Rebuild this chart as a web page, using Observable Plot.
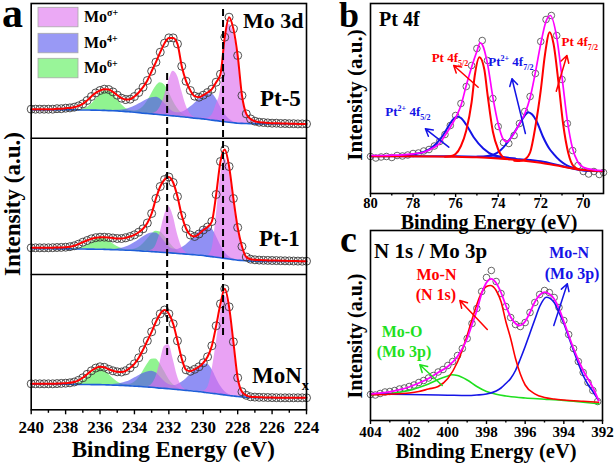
<!DOCTYPE html>
<html><head><meta charset="utf-8">
<script src="https://cdn.jsdelivr.net/npm/d3@7"></script>
<script src="https://cdn.jsdelivr.net/npm/@observablehq/plot@0.6"></script>
<style>
body{margin:0;background:#fff;}
#fig{position:relative;width:614px;height:465px;overflow:hidden;background:#fff;}
</style></head><body><div id="fig"></div>
<script>
// ===================== DATA: panel a (Mo 3d) =====================
const energyA = [240,239.75,239.5,239.25,239,238.75,238.5,238.25,238,237.75,237.5,237.25,237,236.75,236.5,236.25,236,235.75,235.5,235.25,235,234.75,234.5,234.25,234,233.75,233.5,233.25,233,232.75,232.5,232.25,232,231.75,231.5,231.25,231,230.75,230.5,230.25,230,229.75,229.5,229.25,229,228.75,228.5,228.25,228,227.75,227.5,227.25,227,226.75,226.5,226.25,226,225.75,225.5,225.25,225,224.75,224.5,224.25,224];

const pt5Counts = [29,29,29,29, 29,29,29.5,29.5, 30,30.3,31,32.3, 34.3,37.7,41.7,45.3, 47.7,49,48.7,46.3, 43,40,38.7,39, 41.7,45.7,51,57.7, 67,76,86,95, 100.3,100.3,94.3,72, 57,47.7,42,41, 43,45.7,49,56, 64,101,121,109.3, 82.7,42.7,24.3,19.3, 17,16,15.7,15.3, 15,15,14.7,14.7, 14.5,14.5,14.3,14.3, 14.3];
const pt5Bg = [28.3,28.3,28.3,28.3, 28.3,28.3,28.3,28.3, 28.3,28.3,28.3,28.3, 28.2,28.2,28.1,28.1, 28,27.8,27.6,27.5, 27.3,27,26.6,26.3, 26,25.6,25.1,24.7, 24.3,23.9,23.5,23.1, 22.7,22.3,21.9,21.4, 21,20.6,20.1,19.7, 19.3,18.7,18.1,17.6, 17,16.5,16,15.5, 15,14.8,14.7,14.5, 14.3,14.3,14.3,14.3, 14.3,14.3,14.3,14.3, 14.3,14.3,14.3,14.3, 14.3];
const pt5Mo6 = [0,0,0,0, 0,0,0,0, 0,0,0.1,0.3, 1,2.6,5.8,10.6, 15.6,19.3,19.7,16.6, 11.6,6.6,3.2,1.4, 1.2,2.5,6.1,12.2, 20.2,27.8,31.9,30.1, 23.4,15,8,3.5, 1.3,0.4,0.1,0, 0,0,0,0, 0,0,0,0, 0,0,0,0, 0,0,0,0, 0,0,0,0, 0,0,0,0, 0];
const pt5Mo4 = [0,0,0,0, 0,0,0,0, 0,0,0,0, 0,0,0,0, 0,0.1,0.1,0.3, 0.6,1.2,2.2,3.8, 5.9,8.5,11.4,14.1, 16.1,17,15.8,11.8, 7.2,4.2,3.5,4.5, 7,10.5,14.7,19.1, 22.9,25.4,26,21.8, 14.5,7.6,3.1,1, 0.3,0.1,0,0, 0,0,0,0, 0,0,0,0, 0,0,0,0, 0];
const pt5MoD = [0,0,0,0, 0,0,0,0, 0,0,0,0, 0,0,0,0, 0,0,0,0, 0,0,0,0, 0,0,0,0, 0.4,2.1,7.7,19.4, 35,44.6,40.4,25.7, 11.6,3.7,0.8,0.2, 0.8,1.6,4.9,16, 31,75,98,90, 66,27,9,4.5, 2.5,1.5,0.8,0.4, 0,0,0,0, 0,0,0,0, 0];

const pt1Counts = [26.7,26.7,26.7,26.7, 26.7,26.8,27,27.1, 27.3,27.8,28.7,30.3, 32.3,34,35.7,36.8, 37.3,37.3,37,36.5, 36,36,36.7,38, 39.7,42.3,45.7,51.5, 61,76,88,95, 97.5,92,78,59, 46,39.5,38,40.5, 44.5,47.5,53,80, 113,125,108,76, 47,28,17.5,15.3, 14.7,14.4,14.2,14.1, 14,13.9,13.8,13.7, 13.6,13.5,13.4,13.3, 13.3];
const pt1Bg = [25.7,25.7,25.7,25.7, 25.7,25.7,25.6,25.6, 25.6,25.6,25.5,25.5, 25.5,25.4,25.4,25.3, 25.3,25.1,25,24.8, 24.7,24.5,24.3,24.2, 24,23.7,23.4,23.2, 22.9,22.6,22.3,22, 21.7,21.4,21,20.7, 20.4,20,19.7,19.3, 19,18.4,17.9,17.3, 16.7,16.1,15.5,14.9, 14.3,14,13.7,13.4, 13.2,13.1,13.1,13, 13,13,13,13, 13,13,13,13, 13];
const pt1Mo6 = [0,0,0,0, 0,0,0,0, 0,0.1,0.2,0.7, 1.8,3.8,6.6,9.5, 11.3,11.1,9,6, 3.3,1.5,0.7,0.6, 1.3,3.3,7,12.1, 17.4,20.7,20.3,16.5, 11,6.1,2.8,1.1, 0.3,0.1,0,0, 0,0,0,0, 0,0,0,0, 0,0,0,0, 0,0,0,0, 0,0,0,0, 0,0,0,0, 0];
const pt1Mo4 = [0,0,0,0, 0,0,0,0, 0,0,0,0, 0,0,0,0, 0,0.1,0.2,0.4, 0.9,1.7,3.1,5.1, 7.7,10.8,14,16.7, 18.5,19,16.2,11, 6.4,4.1,4.1,6, 9.2,13.5,18.4,23.1, 26.9,28.8,27.8,21.3, 12.9,6.1,2.3,0.7, 0.1,0,0,0, 0,0,0,0, 0,0,0,0, 0,0,0,0, 0];
const pt1MoD = [0,0,0,0, 0,0,0,0, 0,0,0,0, 0,0,0,0, 0,0,0,0, 0,0,0,0, 0,0,0,0.1, 1.5,6.7,19.6,37.1, 46,37.1,19.6,6.7, 1.5,0.1,0,0, 0,0.5,7,40, 81,100,88,59, 32,13.5,3.5,1.5, 0.8,0.3,0,0, 0,0,0,0, 0,0,0,0, 0];

const mnxCounts = [26,26,26,26, 26,26,26.2,26.4, 26.6,27,27.8,29.5, 32,35.5,39,41.7, 43,42.5,40.5,39, 38,37.8,39,42, 46,52,60,69, 78,88,96,99.8, 96,86,69,51, 40,38.5,40.5,43, 47,53,64,84, 106,121,103,68, 32,18,14.5,13, 12.7,12.5,12.4,12.3, 12.2,12.1,12,12, 12,12,12,12, 12];
const mnxBg = [25.5,25.5,25.5,25.5, 25.5,25.5,25.5,25.5, 25.5,25.5,25.4,25.4, 25.3,25.3,25.2,25.2, 25.2,25,24.9,24.7, 24.6,24.4,24.2,23.9, 23.7,23.4,23.1,22.8, 22.5,22.1,21.7,21.4, 21,20.6,20.2,19.8, 19.4,19,18.5,18.1, 17.7,17.1,16.6,16, 15.4,14.9,14.3,13.8, 13.3,12.9,12.6,12.4, 12.2,12.1,12,12, 12,12,12,12, 12,12,12,12, 12];
const mnxMo6 = [0,0,0,0, 0,0,0,0, 0,0.1,0.5,1.5, 3.5,6.8,10.9,14.5, 16,14.5,10.9,6.8, 3.5,1.6,1,1.6, 3.9,8.4,15.3,22.7, 28,28.6,24.1,16.8, 9.6,4.6,1.8,0.6, 0.1,0,0,0, 0,0,0,0, 0,0,0,0, 0,0,0,0, 0,0,0,0, 0,0,0,0, 0,0,0,0, 0];
const mnxMo4 = [0,0,0,0, 0,0,0,0, 0,0,0,0, 0,0,0,0, 0,0.1,0.3,0.6, 1.1,2.1,3.5,5.5, 8,10.7,13.2,15.1, 16,14.9,11.1,6.9, 4.2,3.6,4.9,7.7, 11.5,16.2,20.9,25.1, 27.8,28.5,23.9,15.9, 8.3,3.4,1.1,0.3, 0.1,0,0,0, 0,0,0,0, 0,0,0,0, 0,0,0,0, 0];
const mnxMoD = [0,0,0,0, 0,0,0,0, 0,0,0,0, 0,0,0,0, 0,0,0,0, 0,0,0,0, 0,0,0,0.5, 2.9,10.7,26.4,42.2, 44,30,13.3,3.8, 0.7,0.1,0,0, 1,5,22,50, 80,99,86,53, 18,5,1.8,0.6, 0.3,0,0,0, 0,0,0,0, 0,0,0,0, 0];

const refLinesA = [232.1, 228.85];
const tickLabelsA = [240,238,236,234,232,230,228,226,224];
const minorTicksA = [239,237,235,233,231,229,227,225];
const legendSupA = ["σ+","4+","6+"];

// ===================== DATA: panel b (Pt 4f) =====================
const energyB = [80,79.75,79.5,79.25,79,78.75,78.5,78.25,78,77.75,77.5,77.25,77,76.75,76.5,76.25,76,75.75,75.5,75.25,75,74.75,74.5,74.25,74,73.75,73.5,73.25,73,72.75,72.5,72.25,72,71.75,71.5,71.25,71,70.75,70.5,70.25,70,69.75,69.5,69.25,69.05];
const countsB = [37,35.5,36.5,37, 36,38,37.5,38.5, 40,40.5,42.5,44, 47.5,52,59,68, 78,90,107,128, 145,153,133,95, 67,51,50,58, 70,82,97,120, 152,174,178,158, 114,70,43,28, 22,19.5,22,19, 21];
const envEnergyB = [80,79.5,79,78.5,78,77.5,77,76.75,76.5,76.25,76,75.75,75.5,75.25,75,74.85,74.75,74.5,74.25,74,73.75,73.6,73.5,73.25,73,72.75,72.5,72.25,72,71.75,71.55,71.25,71,70.75,70.5,70.25,70,69.5,69.05];
const envB = [38,38,38.3,38.7,39.7,41.3,46.3,50,58,66.3,75.7,88,108,126.3,142.3,150.7,149,129.7,96.3,69.7,53.7,51.7,53,60.3,69.7,79.7,95.7,121.3,149.7,172.3,178,156.3,116.3,73,44.7,31.3,26.3,23.7,23];
const bgEnergyB = [80,77,76,75,74,73,72,71,70,69.05];
const bgRedB = [37.3,37,36.8,36.2,35,33.3,30.7,27,23.5,22.3];
const bgBlueB = [37.3,37.3,37.2,36.8,36,34.3,32.3,27.5,23,22.3];
const pt0a_E = [76.5,76.25,76,75.75,75.5,75.25,75.1,74.88,74.65,74.5,74.25,74,73.75,73.5];
const pt0a_I = [36.8,37.3,39.5,47.5,63,91,118,136.3,124,99,62,44,36,34.2];
const pt0b_E = [73.25,73,72.75,72.5,72.25,72,71.8,71.58,71.4,71.15,70.95,70.7,70.45,70.2];
const pt0b_I = [32.8,32.4,34,41,67,103,139,161.3,150,108,70,40,27,24];
const pt2a_E = [78.5,78,77.5,77.2,76.9,76.6,76.3,76.1,75.93,75.75,75.5,75.15,74.7,74.2,73.7,73.2];
const pt2a_I = [37.4,39,41.5,44.7,50,58,68.5,74.5,77,75.5,68.7,56.3,45,38.2,36.3,35];
const pt2b_E = [75,74.5,74.2,73.9,73.6,73.3,73,72.8,72.6,72.4,72.2,71.9,71.6,71.4,71.1,70.8,70.3,69.8];
const pt2b_I = [36.8,37.5,39,43,50,59,69.5,76.3,81.3,79,72.5,57,45,39.7,33,28.5,24.5,22.8];
const tickLabelsB = [80,78,76,74,72,70];
const minorTicksB = [79,77,75,73,71];

// ===================== DATA: panel c (N 1s / Mo 3p) =====================
const energyC = [404,403.75,403.5,403.25,403,402.75,402.5,402.25,402,401.75,401.5,401.25,401,400.75,400.5,400.25,400,399.75,399.5,399.25,399,398.75,398.5,398.25,398,397.75,397.5,397.25,397,396.75,396.5,396.25,396,395.75,395.5,395.25,395,394.75,394.5,394.25,394,393.75,393.5,393.25,393,392.75,392.5,392.25];
const countsC = [26,25.5,27,28.5, 29,30,31.5,32.5, 34,35.5,38,40, 42.5,45,48.5,51, 55,59,65,72, 82,97,112,129, 143,150,139,127, 114,103,96,94, 98,108,118,126, 130,128,123,113, 100,86,72,59, 48,38,30,19];
const envEnergyC = [404,403,402.5,402,401.5,401,400.5,400,399.5,399,398.75,398.5,398.25,398,397.75,397.5,397.25,397,396.75,396.5,396.3,396,395.75,395.5,395.25,395,394.75,394.5,394.25,394,393.5,393,392.5,392.2];
const envC = [26.7,28.7,30.8,33.5,37.5,42,48,54,64,82,96,110,127,138,141.7,137.5,128,115,103.5,97,95,99,108,118.5,125.5,128.3,126.5,121.5,112,99,72,50,33,20];
const n1s_E = [404,403,402,401.5,401,400.5,400,399.5,399,398.75,398.5,398.25,398,397.8,397.5,397.25,397,396.75,396.5,396.25,396,395.5,395,394.5,394,393,392.2];
const n1s_I = [25.7,26.3,27.5,29,31.5,34,42,58.5,85,101,116,128,134,135,130,119,99,82,62,46.5,35.5,26.7,23,21.5,20.5,19.2,18.3];
const mo3pN_E = [404,402,400,399,398.5,398,397.5,397.25,397,396.75,396.5,396.25,396,395.75,395.5,395.25,394.9,394.5,394.25,394,393.75,393.5,393.25,393,392.75,392.5,392.2];
const mo3pN_I = [26.7,26,25.3,25,25.5,26.5,29.5,32.5,37,42,50,61.5,74,87.5,101,114,123.3,118,108,97,83.5,70,57,45,36,29,20];
const mo3pO_E = [404,403,402.5,402,401.5,401,400.5,400,399.8,399.5,399,398.5,398,397.5,397,396,395,394,393,392.2];
const mo3pO_I = [25.7,27,28.2,30,33,36.5,41,44.5,45.7,45,40.5,34,29,26.2,24.5,22.5,21.3,20,18.2,16.7];
const tickLabelsC = [404,402,400,398,396,394,392];
const minorTicksC = [403,401,399,397,395,393];

// ===================== STYLE / LAYOUT =====================
const FONT = "'Liberation Serif','Times New Roman',Times,serif";
const RED = "#ff0000", BLUE = "#1414e6", MAG = "#ff00ff", GRN = "#1fe01f";
const FILL_D = "#dd70ee", FILL_4 = "#5555ee", FILL_6 = "#55ee55", FILL_OP = 0.65;
const fig = document.getElementById("fig");
const zip = (xs, ys) => xs.map((x, i) => ({x, y: ys[i]}));
const curve = "monotone-x";
const plotStyle = size => `font-family:${FONT};font-size:${size}px;font-weight:bold;background:transparent;overflow:visible;`;

function place(svg, left, top) {
  svg.style.position = "absolute"; svg.style.left = left + "px"; svg.style.top = top + "px";
  fig.appendChild(svg); return svg;
}
function axes(major, minor, size, pad) {
  return [
    Plot.axisX({ticks: major, tickSize: size, tickPadding: pad, tickFormat: d => String(d), label: null, strokeWidth: 1.4}),
    Plot.axisX({ticks: minor, tickSize: size - 1.5, tickFormat: () => "", label: null, strokeWidth: 1.4})
  ];
}

// ---------- panel a ----------
const stackOffsets = [271.6, 135.3, 0];
const spectraA = [
  {counts: pt5Counts, bg: pt5Bg, d: pt5MoD, f: pt5Mo4, s: pt5Mo6},
  {counts: pt1Counts, bg: pt1Bg, d: pt1MoD, f: pt1Mo4, s: pt1Mo6},
  {counts: mnxCounts, bg: mnxBg, d: mnxMoD, f: mnxMo4, s: mnxMo6}
];
const dashSpans = [[54.3, 339.3], [74.3, 402.3]];
const marksA = [];
spectraA.forEach((sp, k) => {
  const off = stackOffsets[k];
  const rows = energyA.map((E, i) => ({
    E, c: sp.counts[i] + off, bg: sp.bg[i] + off,
    d: sp.bg[i] + sp.d[i] + off, f: sp.bg[i] + sp.f[i] + off, s: sp.bg[i] + sp.s[i] + off
  }));
  marksA.push(
    Plot.areaY(rows, {x: "E", y1: "bg", y2: "s", fill: FILL_6, fillOpacity: FILL_OP, curve}),
    Plot.areaY(rows, {x: "E", y1: "bg", y2: "f", fill: FILL_4, fillOpacity: FILL_OP, curve}),
    Plot.areaY(rows, {x: "E", y1: "bg", y2: "d", fill: FILL_D, fillOpacity: FILL_OP, curve}),
    Plot.line(rows, {x: "E", y: "bg", stroke: "#1e5ed8", strokeWidth: 1.6, curve}),
    Plot.dot(rows, {x: "E", y: "c", r: 4, stroke: "#3a3a3a", strokeWidth: 0.9, fill: "none"}),
    Plot.line(rows, {x: "E", y: "c", stroke: RED, strokeWidth: 2, curve})
  );
});
marksA.push(
  Plot.ruleX(refLinesA.map((E, i) => ({E, lo: dashSpans[i][0], hi: dashSpans[i][1]})),
    {x: "E", y1: "lo", y2: "hi", stroke: "#000", strokeWidth: 2, strokeDasharray: "7,4"}),
  Plot.ruleY([stackOffsets[1], stackOffsets[0]], {stroke: "#000", strokeWidth: 1.5}),
  Plot.frame({stroke: "#000", strokeWidth: 1.6}),
  ...axes(tickLabelsA, minorTicksA, 5, 6.5)
);
const plotA = place(Plot.plot({
  width: 310, height: 465, marginLeft: 30.7, marginRight: 4, marginTop: 3, marginBottom: 55.7,
  x: {domain: [240, 224], label: null}, y: {domain: [0, 406.3], axis: null},
  style: plotStyle(17),
  marks: marksA
}), 0, 0);

// ---------- panel b ----------
const arrowsB = [
  {x1: 74.94, y1: 106.3, x2: 76.09, y2: 128, c: RED},
  {x1: 72.72, y1: 60, x2: 73.35, y2: 114.7, c: BLUE},
  {x1: 71.27, y1: 102.3, x2: 70.77, y2: 138, c: RED},
  {x1: 76.32, y1: 46.3, x2: 77.42, y2: 64.7, c: BLUE}
];
const plotB = place(Plot.plot({
  width: 274, height: 230, marginLeft: 30, marginRight: 11, marginTop: 3, marginBottom: 37,
  x: {domain: [80, 69.05], label: null}, y: {domain: [0, 190], axis: null},
  style: plotStyle(14.5),
  marks: [
    Plot.dot(zip(energyB, countsB), {x: "x", y: "y", r: 3.3, stroke: "#555", strokeWidth: 0.9, fill: "none"}),
    Plot.line(zip(bgEnergyB, bgBlueB), {x: "x", y: "y", stroke: BLUE, strokeWidth: 2, curve}),
    Plot.line(zip(pt2a_E, pt2a_I), {x: "x", y: "y", stroke: BLUE, strokeWidth: 2, curve}),
    Plot.line(zip(pt2b_E, pt2b_I), {x: "x", y: "y", stroke: BLUE, strokeWidth: 2, curve}),
    Plot.line(zip(bgEnergyB, bgRedB), {x: "x", y: "y", stroke: RED, strokeWidth: 2, curve}),
    Plot.line(zip(pt0a_E, pt0a_I), {x: "x", y: "y", stroke: RED, strokeWidth: 2, curve}),
    Plot.line(zip(pt0b_E, pt0b_I), {x: "x", y: "y", stroke: RED, strokeWidth: 2, curve}),
    Plot.line(zip(envEnergyB, envB), {x: "x", y: "y", stroke: MAG, strokeWidth: 1.7, curve}),
    ...arrowsB.map(a => Plot.arrow([a], {x1: "x1", y1: "y1", x2: "x2", y2: "y2", stroke: a.c, strokeWidth: 1.5, headLength: 8})),
    Plot.frame({stroke: "#000", strokeWidth: 1.6}),
    ...axes(tickLabelsB, minorTicksB, 4, 0)
  ]
}), 340, 0);

// ---------- panel c ----------
const arrowsC = [
  {x1: 397.96, y1: 91, x2: 399.38, y2: 120, c: RED},
  {x1: 394.52, y1: 95, x2: 393.82, y2: 136.7, c: BLUE},
  {x1: 400.29, y1: 35, x2: 401.45, y2: 55.7, c: GRN}
];
const plotC = place(Plot.plot({
  width: 274, height: 237, marginLeft: 30, marginRight: 12, marginTop: 2, marginBottom: 45,
  x: {domain: [404, 392], label: null}, y: {domain: [0, 190], axis: null},
  style: plotStyle(15),
  marks: [
    Plot.dot(zip(energyC, countsC), {x: "x", y: "y", r: 3.3, stroke: "#555", strokeWidth: 0.9, fill: "none"}),
    Plot.line(zip(mo3pO_E, mo3pO_I), {x: "x", y: "y", stroke: GRN, strokeWidth: 1.6, curve}),
    Plot.line(zip(mo3pN_E, mo3pN_I), {x: "x", y: "y", stroke: BLUE, strokeWidth: 1.6, curve}),
    Plot.line(zip(n1s_E, n1s_I), {x: "x", y: "y", stroke: RED, strokeWidth: 1.6, curve}),
    Plot.line(zip(envEnergyC, envC), {x: "x", y: "y", stroke: MAG, strokeWidth: 1.8, curve}),
    ...arrowsC.map(a => Plot.arrow([a], {x1: "x1", y1: "y1", x2: "x2", y2: "y2", stroke: a.c, strokeWidth: 1.5, headLength: 8})),
    Plot.frame({stroke: "#000", strokeWidth: 1.6}),
    ...axes(tickLabelsC, minorTicksC, 4, 2)
  ]
}), 340, 228);

// ===================== TEXT OVERLAY =====================
const ov = d3.select(fig).append("svg").attr("width", 614).attr("height", 465)
  .style("position", "absolute").style("left", 0).style("top", 0).style("pointer-events", "none");
function label(x, y, parts, o = {}) {
  const size = o.size || 16;
  const t = ov.append("text").attr("x", x).attr("y", y)
    .attr("font-family", FONT).attr("font-weight", "bold").attr("font-size", size)
    .attr("fill", o.fill || "#000").attr("text-anchor", o.anchor || "start");
  if (o.rotate) t.attr("transform", `rotate(${o.rotate},${x},${y})`);
  let shift = 0;
  for (const p of parts) {
    const [s, kind] = typeof p === "string" ? [p, null] : p;
    const target = kind === "sub" ? size * 0.3 : kind === "sup" ? -size * 0.42 : 0;
    t.append("tspan").attr("dy", target - shift).attr("font-size", kind ? size * 0.62 : size).text(s);
    shift = target;
  }
}
// panel letters
label(2, 27, ["a"], {size: 42});
label(339, 27, ["b"], {size: 36});
label(340, 252, ["c"], {size: 38});
// panel a texts
label(243, 28.3, ["Mo 3d"], {size: 22});
label(260, 105.6, ["Pt-5"], {size: 23});
label(259, 245.6, ["Pt-1"], {size: 23});
label(252, 383.3, ["MoN", ["x", "sub"]], {size: 23});
const swatchFills = [FILL_D, FILL_4, FILL_6];
const swatchTops = [7.3, 33.3, 58.3];
swatchFills.forEach((f, i) => {
  ov.append("rect").attr("x", 38).attr("y", swatchTops[i]).attr("width", 40).attr("height", 19.5)
    .attr("fill", f).attr("fill-opacity", 0.6).attr("stroke", "#a8a8a8").attr("stroke-width", 0.8);
  label(84, swatchTops[i] + 15, ["Mo", [legendSupA[i], "sup"]], {size: 16});
});
label(173.3, 457, ["Binding Energy (eV)"], {size: 23, anchor: "middle"});
label(19.5, 204, ["Intensity (a.u.)"], {size: 23, anchor: "middle", rotate: -90});
// panel b texts
label(379, 26, ["Pt 4f"], {size: 20});
label(489, 228.5, ["Binding Energy (eV)"], {size: 20, anchor: "middle"});
label(361.5, 95, ["Intensity (a.u.)"], {size: 21, anchor: "middle", rotate: -90});
const annB = [
  {E: 76.24, I: 135, fill: RED, parts: ["Pt 4f", ["5/2", "sub"]]},
  {E: 73.38, I: 131, fill: BLUE, parts: ["Pt", ["2+", "sup"], " 4f", ["7/2", "sub"]]},
  {E: 70.14, I: 151, fill: RED, parts: ["Pt 4f", ["7/2", "sub"]]},
  {E: 78.22, I: 81, fill: BLUE, parts: ["Pt", ["2+", "sup"], " 4f", ["5/2", "sub"]]}
];
annB.forEach(a => label(340 + plotB.scale("x").apply(a.E), plotB.scale("y").apply(a.I) + 4.3, a.parts, {size: 13, anchor: "middle", fill: a.fill}));
// panel c texts
label(374, 257.7, ["N 1s / Mo 3p"], {size: 21});
label(486, 457.5, ["Binding Energy (eV)"], {size: 20.5, anchor: "middle"});
label(361.5, 336, ["Intensity (a.u.)"], {size: 20, anchor: "middle", rotate: -90});
const annC = [
  {E: 400.56, I: 145, fill: RED, t: "Mo-N"}, {E: 400.59, I: 125, fill: RED, t: "(N 1s)"},
  {E: 393.7, I: 167, fill: BLUE, t: "Mo-N"}, {E: 393.55, I: 146, fill: BLUE, t: "(Mo 3p)"},
  {E: 402.34, I: 88, fill: GRN, t: "Mo-O"}, {E: 402.24, I: 68, fill: GRN, t: "(Mo 3p)"}
];
annC.forEach(a => label(340 + plotC.scale("x").apply(a.E), 228 + plotC.scale("y").apply(a.I) + 5.3, [a.t], {size: 16, anchor: "middle", fill: a.fill}));
</script></body></html>
